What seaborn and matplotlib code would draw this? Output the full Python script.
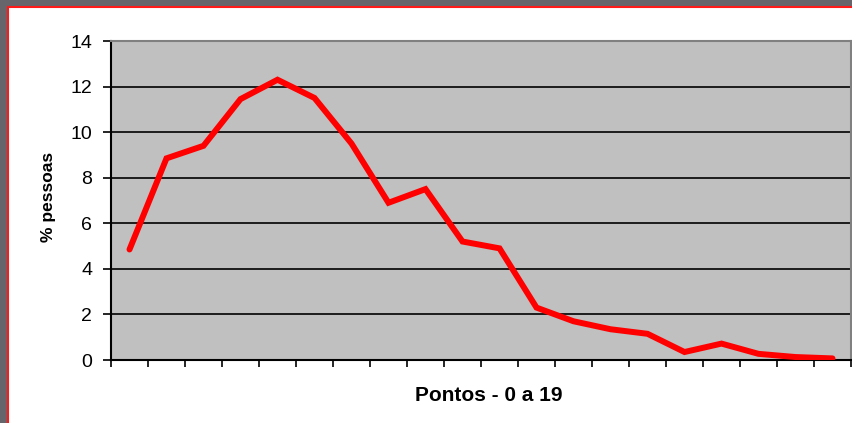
import numpy as np
import pandas as pd
import matplotlib
matplotlib.use("Agg")
import matplotlib.pyplot as plt
import seaborn as sns
from matplotlib.patches import Rectangle

# ================= DATA =================
pontos = list(range(20))
pessoas = [4.85, 8.85, 9.4, 11.45, 12.3, 11.5, 9.5, 6.9, 7.5, 5.2,
           4.9, 2.3, 1.7, 1.35, 1.15, 0.35, 0.72, 0.27, 0.13, 0.07]
y_ticks = [0, 2, 4, 6, 8, 10, 12, 14]

sns.set_theme(style="white")
plt.rcParams['font.family'] = ['Liberation Sans', 'DejaVu Sans']

df = pd.DataFrame({"Pontos": pontos, "Pessoas": pessoas})

fig = plt.figure(figsize=(8.52, 4.23), dpi=100, facecolor="#67656c")
# white slide panel with red border
fig.patches.append(Rectangle((8 / 852, -0.01), 1.0, (423 - 7.5) / 423 + 0.01,
                             transform=fig.transFigure, facecolor="white",
                             edgecolor="#ff1a1a", linewidth=1.5, zorder=-5))

ax = fig.add_axes([111 / 852, (423 - 360) / 423, (851 - 111) / 852, (360 - 41) / 423])
ax.set_facecolor("#c0c0c0")

sns.lineplot(data=df, x="Pontos", y="Pessoas", ax=ax, color="#ff0000",
             linewidth=4.3, solid_joinstyle="miter", zorder=3)

ax.set_xlim(-0.5, len(pontos) - 0.5)
ax.set_ylim(0, 14)
ax.set_yticks(y_ticks)
ax.set_yticklabels([str(t) for t in y_ticks], fontsize=14, color="black")
ax.set_xticks(np.arange(-0.5, len(pontos), 1.0))
ax.set_xticklabels([])
ax.tick_params(axis="y", direction="out", length=5.5, width=1.2, color="black",
               left=True, pad=8)
ax.tick_params(axis="x", direction="out", length=5, width=1.2, color="black",
               bottom=True)

for t in y_ticks[1:-1]:
    ax.axhline(t, color="black", linewidth=1.2, zorder=1)

for side in ["top", "right"]:
    ax.spines[side].set_color("#808080")
    ax.spines[side].set_linewidth(1.5)
for side in ["left", "bottom"]:
    ax.spines[side].set_color("black")
    ax.spines[side].set_linewidth(1.5)

ax.set_xlabel("Pontos - 0 a 19", fontsize=15, fontweight="bold", color="black")
ax.set_ylabel("% pessoas", fontsize=12.5, fontweight="bold", color="black")
ax.xaxis.set_label_coords(0.51, -0.08)
ax.yaxis.set_label_coords(-0.074, 0.51)

fig.savefig("out.png", dpi=100, facecolor=fig.get_facecolor())
